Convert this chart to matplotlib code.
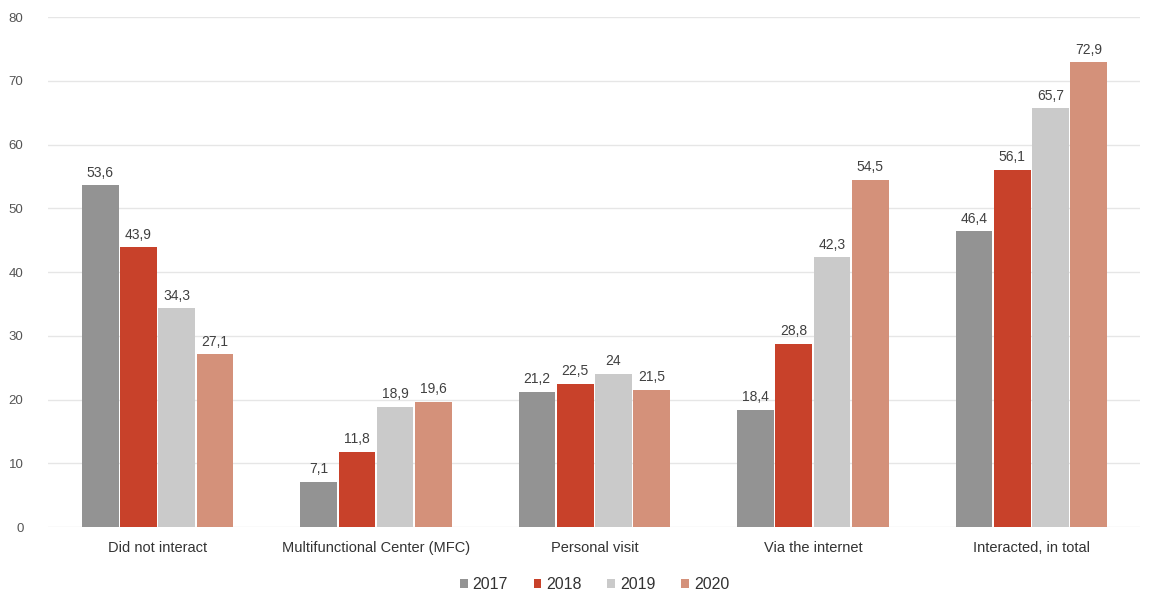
import numpy as np
import matplotlib.pyplot as plt

plt.rcParams['font.family'] = ['Liberation Sans', 'DejaVu Sans']

categories = ["Did not interact", "Multifunctional Center (MFC)", "Personal visit",
              "Via the internet", "Interacted, in total"]
years = ["2017", "2018", "2019", "2020"]
v2017 = [53.6, 7.1, 21.2, 18.4, 46.4]
v2018 = [43.9, 11.8, 22.5, 28.8, 56.1]
v2019 = [34.3, 18.9, 24.0, 42.3, 65.7]
v2020 = [27.1, 19.6, 21.5, 54.5, 72.9]

series = [v2017, v2018, v2019, v2020]
colors = ["#939393", "#c8412a", "#cacaca", "#d4917a"]

fig = plt.figure(figsize=(11.52, 5.91), dpi=100)
ax = fig.add_axes([0.042, 0.108, 0.948, 0.863])

x = np.arange(len(categories))
w = 0.175
for i, (vals, col, yr) in enumerate(zip(series, colors, years)):
    pos = x + (i - 1.5) * w
    ax.bar(pos, vals, width=w * 0.96, color=col, label=yr, zorder=3)
    # value labels with comma as decimal separator
    for xp, v in zip(pos, vals):
        txt = f"{v:g}".replace(".", ",")
        ax.text(xp, v + 0.9, txt, ha="center", va="bottom", fontsize=10, color="#404040")

ax.set_xlim(-0.5, len(categories) - 0.5)
ax.set_ylim(0, 80)
ax.set_yticks(range(0, 81, 10))
ax.yaxis.grid(True, color="#e6e6e6", linewidth=1, zorder=0)
ax.set_xticks(x)
ax.set_xticklabels(categories, fontsize=10.5, color="#333333")
ax.tick_params(axis="y", labelsize=9.5, colors="#555555", length=0, pad=18)
ax.tick_params(axis="x", length=0, pad=10)
for s in ax.spines.values():
    s.set_visible(False)

ax.legend(loc="upper center", bbox_to_anchor=(0.5, -0.07), ncol=4, frameon=False,
          fontsize=11.5, handlelength=0.5, handleheight=0.5, handletextpad=0.3,
          columnspacing=1.6, labelcolor="#333333")

fig.savefig("out.png", dpi=100)
